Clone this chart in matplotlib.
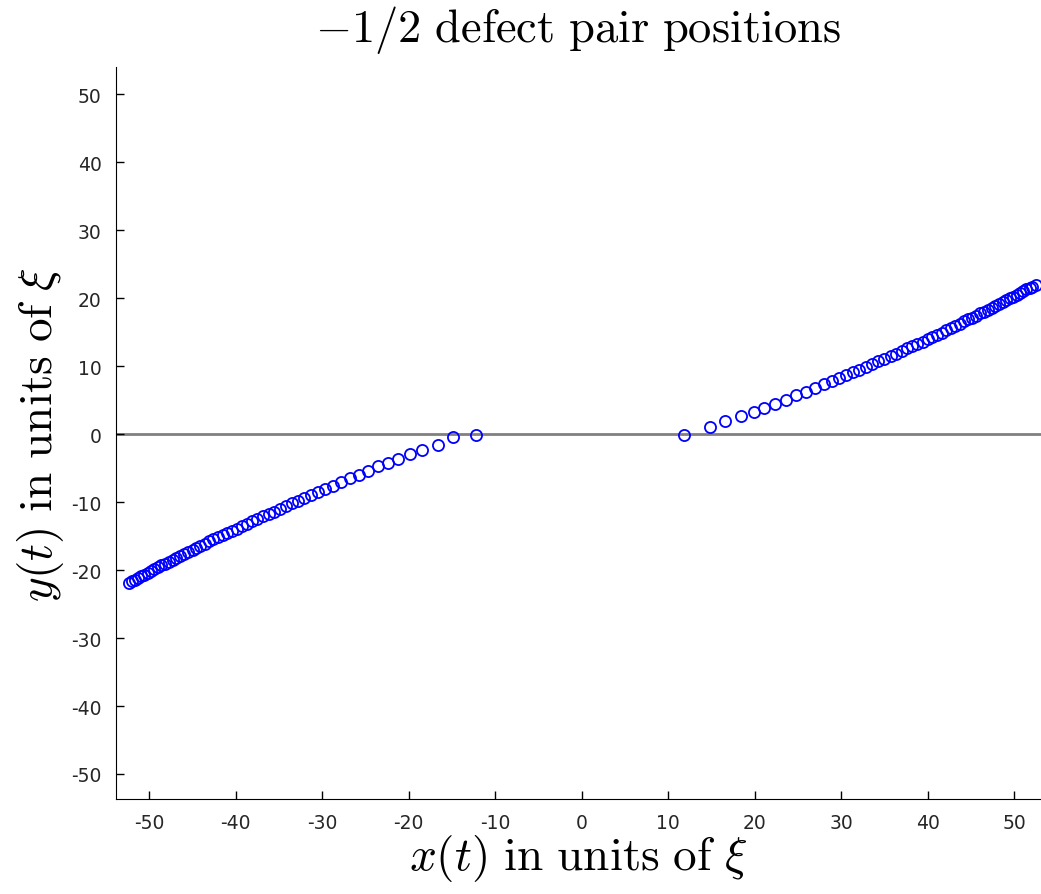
import numpy as np
import matplotlib
matplotlib.use('Agg')
import matplotlib.pyplot as plt

# defect positions, right branch (+x) and left branch (-x), in units of xi
x_right = [11.8, 14.8, 16.6, 18.4, 19.9, 21.1, 22.4, 23.6, 24.8, 25.9, 27.0, 28.0,
           28.9, 29.8, 30.6, 31.4, 32.1, 32.9, 33.6, 34.3, 35.0, 35.7, 36.3, 37.0,
           37.6, 38.2, 38.8, 39.4, 40.0, 40.5, 41.1, 41.6, 42.1, 42.7, 43.2, 43.7,
           44.2, 44.7, 45.1, 45.6, 46.1, 46.5, 47.0, 47.4, 47.8, 48.3, 48.7, 49.1,
           49.5, 49.9, 50.3, 50.7, 51.0, 51.4, 51.8, 52.1, 52.5]
y_right = [-0.1, 1.0, 1.9, 2.6, 3.3, 3.8, 4.5, 5.0, 5.7, 6.2, 6.8, 7.3,
           7.8, 8.2, 8.7, 9.1, 9.5, 9.9, 10.3, 10.7, 11.1, 11.5, 11.8, 12.2,
           12.6, 12.9, 13.3, 13.6, 14.0, 14.3, 14.6, 14.9, 15.3, 15.6, 15.9, 16.2,
           16.6, 16.9, 17.1, 17.4, 17.8, 18.0, 18.3, 18.6, 18.9, 19.2, 19.4, 19.7,
           20.0, 20.2, 20.5, 20.8, 21.0, 21.3, 21.5, 21.7, 22.0]
x_left = [-12.2, -14.9, -16.6, -18.5, -19.9, -21.2, -22.4, -23.6, -24.7, -25.7,
          -26.8, -27.8, -28.8, -29.7, -30.5, -31.3, -32.1, -32.8, -33.5, -34.2,
          -34.9, -35.6, -36.2, -36.9, -37.5, -38.1, -38.7, -39.3, -39.9, -40.4,
          -41.0, -41.5, -42.0, -42.6, -43.1, -43.6, -44.1, -44.6, -45.0, -45.5,
          -46.0, -46.4, -46.9, -47.3, -47.7, -48.2, -48.6, -49.0, -49.4, -49.8,
          -50.2, -50.6, -50.9, -51.3, -51.7, -52.0, -52.4]
y_left = [-0.1, -0.5, -1.6, -2.4, -3.0, -3.7, -4.2, -4.7, -5.4, -6.0,
          -6.5, -7.0, -7.6, -8.1, -8.5, -9.0, -9.4, -9.8, -10.2, -10.6,
          -11.0, -11.4, -11.7, -12.1, -12.5, -12.8, -13.2, -13.5, -13.9, -14.2,
          -14.5, -14.8, -15.2, -15.5, -15.8, -16.1, -16.5, -16.8, -17.0, -17.3,
          -17.7, -17.9, -18.2, -18.5, -18.8, -19.1, -19.3, -19.6, -19.9, -20.1,
          -20.4, -20.7, -20.9, -21.2, -21.4, -21.6, -21.9]
ticks = [-50, -40, -30, -20, -10, 0, 10, 20, 30, 40, 50]

plt.rcParams['mathtext.fontset'] = 'cm'
plt.rcParams['axes.unicode_minus'] = False

fig = plt.figure(figsize=(10.41, 8.95), dpi=100)
ax = fig.add_axes([0.111, 0.106, 0.889, 0.818])

ax.axhline(0, color='#808080', lw=2, zorder=1)
ax.plot(x_right + x_left, y_right + y_left, 'o', mfc='none', mec='#0000ff',
        ms=8, mew=1.3, zorder=2)

ax.set_xlim(-53.9, 53.1)
ax.set_ylim(-53.7, 54.0)
ax.set_xticks(ticks)
ax.set_yticks(ticks)
ax.tick_params(direction='in', length=6, width=1, labelsize=13.5,
               labelcolor='#262626', pad=10)
for s in ['top', 'right']:
    ax.spines[s].set_visible(False)

ax.set_title(r'$-1/2\ \mathrm{defect\ pair\ positions}$', fontsize=33.5, pad=19)
ax.set_xlabel(r'$x(t)\ \mathrm{in\ units\ of}\ \xi$', fontsize=34, labelpad=0)
ax.set_ylabel(r'$y(t)\ \mathrm{in\ units\ of}\ \xi$', fontsize=34, labelpad=4)

fig.savefig('out.png', dpi=100)
